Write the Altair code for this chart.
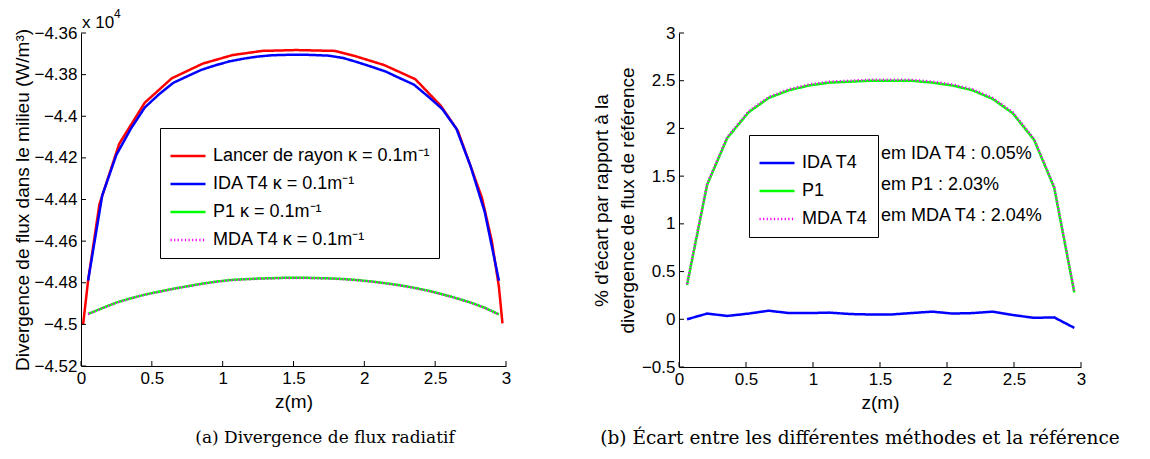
import altair as alt
import pandas as pd

# ---------------- data: panel (a) ----------------
z_ref = [0.015, 0.05, 0.13, 0.27, 0.45, 0.64, 0.86, 1.07, 1.28, 1.52,
         1.79, 1.93, 2.14, 2.36, 2.54, 2.66, 2.83, 2.90, 2.95, 2.975]
ref_vals = [-4.500, -4.479, -4.4423, -4.4132, -4.3935, -4.3818, -4.3747, -4.3706, -4.3686, -4.3682,
            -4.3686, -4.3710, -4.3754, -4.3822, -4.3950, -4.4070, -4.4391, -4.4600, -4.4820, -4.4995]

z_model = [0.05, 0.15, 0.25, 0.35, 0.45, 0.55, 0.65, 0.75, 0.85, 0.95,
           1.05, 1.15, 1.25, 1.35, 1.45, 1.55, 1.65, 1.75, 1.85, 1.95,
           2.05, 2.15, 2.25, 2.35, 2.45, 2.55, 2.65, 2.75, 2.85, 2.95]
ida_vals = [-4.4790, -4.4380, -4.4185, -4.4062, -4.3958, -4.3895, -4.3840, -4.3808, -4.3777, -4.3755,
            -4.3736, -4.3723, -4.3713, -4.3707, -4.3705, -4.3704, -4.3706, -4.3709, -4.3720, -4.3740,
            -4.3762, -4.3785, -4.3817, -4.3848, -4.3905, -4.3965, -4.4060, -4.4240, -4.4460, -4.4790]
p1_vals = [-4.4950, -4.4922, -4.4895, -4.4875, -4.4857, -4.4843, -4.4829, -4.4817, -4.4805, -4.4795,
           -4.4787, -4.4783, -4.4780, -4.4778, -4.4776, -4.4776, -4.4777, -4.4779, -4.4782, -4.4787,
           -4.4794, -4.4802, -4.4812, -4.4824, -4.4838, -4.4855, -4.4874, -4.4895, -4.4920, -4.4952]
mda_vals = [-4.4951, -4.4923, -4.4896, -4.4876, -4.4858, -4.4844, -4.4830, -4.4818, -4.4806, -4.4796,
            -4.4788, -4.4784, -4.4781, -4.4779, -4.4777, -4.4777, -4.4778, -4.4780, -4.4783, -4.4788,
            -4.4795, -4.4803, -4.4813, -4.4825, -4.4839, -4.4856, -4.4875, -4.4896, -4.4921, -4.4953]

labels_a = ["Lancer de rayon κ = 0.1m⁻¹", "IDA T4 κ = 0.1m⁻¹", "P1 κ = 0.1m⁻¹", "MDA T4 κ = 0.1m⁻¹"]

# ---------------- data: panel (b) ----------------
z_err = [0.06, 0.21, 0.36, 0.52, 0.67, 0.82, 0.97, 1.12, 1.28, 1.43,
         1.58, 1.73, 1.89, 2.04, 2.19, 2.34, 2.49, 2.65, 2.80, 2.95]
ida_err = [0.000, 0.060, 0.035, 0.060, 0.090, 0.065, 0.065, 0.070, 0.055, 0.050,
           0.050, 0.065, 0.080, 0.060, 0.065, 0.080, 0.045, 0.015, 0.020, -0.090]
p1_err = [0.36, 1.41, 1.90, 2.17, 2.32, 2.40, 2.45, 2.48, 2.49, 2.50,
          2.50, 2.50, 2.48, 2.45, 2.40, 2.31, 2.16, 1.88, 1.38, 0.28]
mda_err = [0.37, 1.42, 1.91, 2.18, 2.33, 2.41, 2.46, 2.49, 2.50, 2.51,
           2.51, 2.51, 2.49, 2.46, 2.41, 2.32, 2.17, 1.89, 1.39, 0.29]
labels_b = ["IDA T4", "P1", "MDA T4"]
notes_b = ["em IDA T4 : 0.05%", "em P1 : 2.03%", "em MDA T4 : 2.04%"]

x_ticks = [0, 0.5, 1, 1.5, 2, 2.5, 3]
y_ticks_a = [-4.52, -4.50, -4.48, -4.46, -4.44, -4.42, -4.40, -4.38, -4.36]
y_ticks_b = [-0.5, 0, 0.5, 1, 1.5, 2, 2.5, 3]

FONT = "Liberation Sans"
SERIF = "DejaVu Serif"

df_a = pd.concat([
    pd.DataFrame({"z": z_ref, "v": ref_vals, "series": labels_a[0]}),
    pd.DataFrame({"z": z_model, "v": ida_vals, "series": labels_a[1]}),
    pd.DataFrame({"z": z_model, "v": p1_vals, "series": labels_a[2]}),
    pd.DataFrame({"z": z_model, "v": mda_vals, "series": labels_a[3]}),
])
df_b = pd.concat([
    pd.DataFrame({"z": z_err, "v": ida_err, "series": labels_b[0]}),
    pd.DataFrame({"z": z_err, "v": p1_err, "series": labels_b[1]}),
    pd.DataFrame({"z": z_err, "v": mda_err, "series": labels_b[2]}),
])

AX = dict(labelFont=FONT, titleFont=FONT, labelFontSize=17, titleFontSize=19,
          titleFontWeight="normal", labelColor="black", titleColor="black",
          domainColor="black", domainWidth=1, grid=False, ticks=False, labelFlush=False)


def panel(df, labels, colors, dashes, widths, ydom, yticks, ytitle, W, H,
          legx, legy, rowpad, ext, tpad, caption, capx, capsize):
    leg = alt.Legend(orient="none", legendX=legx, legendY=legy, title=None,
                     strokeColor="black", fillColor="white", padding=9,
                     labelFont=FONT, labelFontSize=18, labelColor="black", labelLimit=500,
                     symbolType="stroke", symbolSize=1225, rowPadding=rowpad, labelOffset=6)
    xaxis = alt.Axis(values=x_ticks, format="~g", title="z(m)", titlePadding=6, labelPadding=4, **AX)
    yaxis = alt.Axis(values=yticks, format="~g", title=ytitle, titlePadding=tpad,
                     labelPadding=4, minExtent=ext, maxExtent=ext, titleLineHeight=26, **AX)
    xsc = alt.Scale(domain=[0, 3], nice=False, zero=False)
    ysc = alt.Scale(domain=ydom, nice=False, zero=False)
    xenc = alt.X("z:Q", scale=xsc, axis=xaxis)
    yenc = alt.Y("v:Q", scale=ysc, axis=yaxis)
    cenc = alt.Color("series:N", scale=alt.Scale(domain=labels, range=colors), legend=leg)
    denc = alt.StrokeDash("series:N", scale=alt.Scale(domain=labels, range=dashes), legend=leg)
    wenc = alt.StrokeWidth("series:N", scale=alt.Scale(domain=labels, range=widths), legend=leg)
    layers = []
    for s in labels:
        layers.append(
            alt.Chart(df).transform_filter(alt.datum.series == s)
            .mark_line(clip=True)
            .encode(x=xenc, y=yenc, color=cenc, strokeDash=denc, strokeWidth=wenc)
        )
    xt = alt.Chart(pd.DataFrame({"t": x_ticks})).mark_rule(color="black", strokeWidth=1).encode(
        x=alt.X("t:Q", scale=xsc, axis=xaxis), y=alt.value(H), y2=alt.value(H - 5))
    yt = alt.Chart(pd.DataFrame({"t": yticks})).mark_rule(color="black", strokeWidth=1).encode(
        y=alt.Y("t:Q", scale=ysc, axis=yaxis), x=alt.value(0), x2=alt.value(5))
    cap = alt.Chart(pd.DataFrame({"c": [caption]})).mark_text(
        font=SERIF, fontSize=capsize, align="center", baseline="middle", color="black"
    ).encode(text="c:N", x=alt.value(capx), y=alt.value(405))
    return alt.layer(*layers, xt, yt, cap).properties(width=W, height=H)


left = panel(df_a, labels_a, ["#ff0000", "#0000ff", "#00ff00", "#ff00ff"],
             [[1, 0], [1, 0], [1, 0], [1.2, 2.4]], [2.5, 2.5, 2.5, 1.1],
             [-4.52, -4.36], y_ticks_a, "Divergence de flux dans le milieu (W/m³)",
             425, 333, 79, 95, -7, 46, 3, "(a)  Divergence de flux radiatif", 244, 17)

exp_a = alt.Chart(pd.DataFrame({"t": ["x 10"]})).mark_text(
    font=FONT, fontSize=17, align="left", baseline="alphabetic", color="black"
).encode(text="t:N", x=alt.value(1), y=alt.value(-5))
exp_b = alt.Chart(pd.DataFrame({"t": ["4"]})).mark_text(
    font=FONT, fontSize=12, align="left", baseline="alphabetic", color="black"
).encode(text="t:N", x=alt.value(33), y=alt.value(-15))
left = alt.layer(left, exp_a, exp_b)

right = panel(df_b, labels_b, ["#0000ff", "#00ff00", "#ff00ff"],
              [[1, 0], [1, 0], [1.2, 2.4]], [2.5, 2.5, 1.1],
              [-0.5, 3], y_ticks_b, ["% d'écart par rapport à la", "divergence de flux de référence"],
              402, 334, 70, 102, -5, 40, 2,
              "(b)  Écart entre les différentes méthodes et la référence", 181, 18.5)
note_layers = []
for txt, yy in zip(notes_b, [121, 152, 183]):
    note_layers.append(alt.Chart(pd.DataFrame({"t": [txt]})).mark_text(
        font=FONT, fontSize=18, align="left", baseline="middle", color="black"
    ).encode(text="t:N", x=alt.value(202), y=alt.value(yy)))
right = alt.layer(right, *note_layers)

chart = alt.hconcat(left, right, spacing=81).resolve_scale(
    color="independent", strokeDash="independent", strokeWidth="independent",
    x="independent", y="independent"
).resolve_legend(
    color="independent", strokeDash="independent", strokeWidth="independent"
).properties(
    padding={"left": 5, "top": 0, "right": 0, "bottom": 0}, background="white"
).configure_view(strokeWidth=0)

chart.save("out.html", embed_options={"renderer": "svg", "actions": False})
